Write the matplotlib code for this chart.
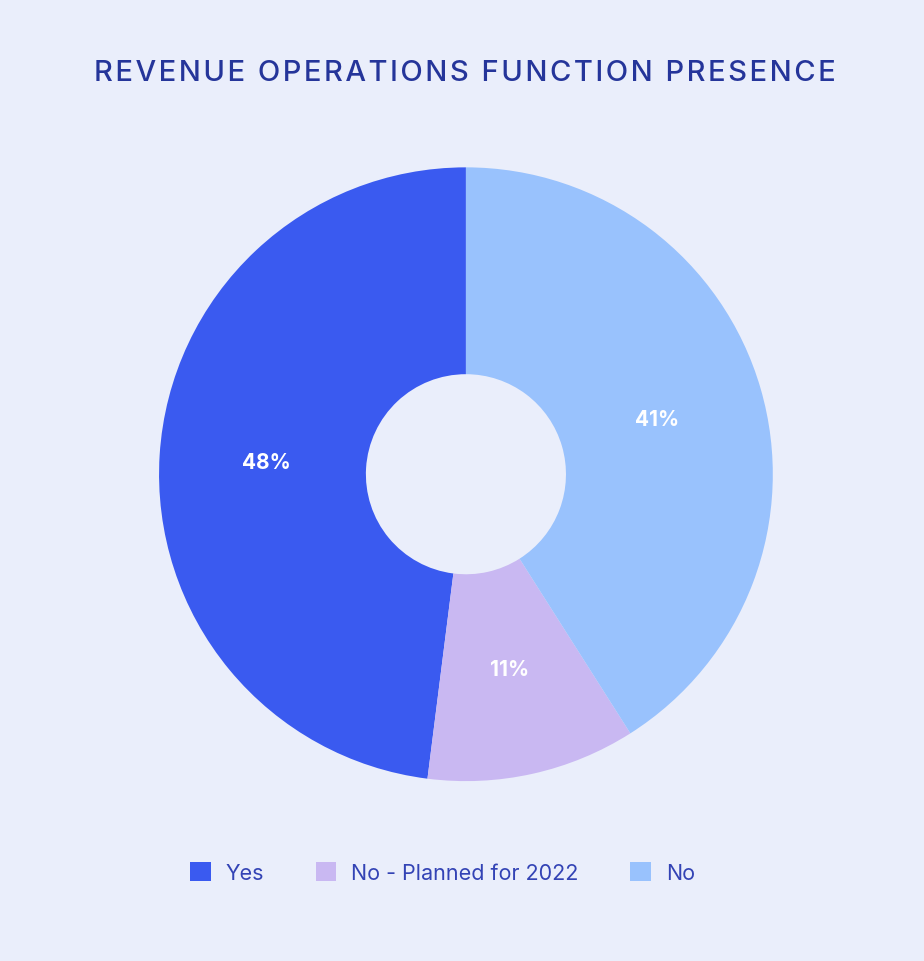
import matplotlib.pyplot as plt

# donut data, counterclockwise from the top
labels = ['Yes', 'No - Planned for 2022', 'No']
values = [48, 11, 41]
colors = ['#3A5AF0', '#C9B8F2', '#99C2FD']
title = 'REVENUE OPERATIONS FUNCTION PRESENCE'

bg = '#EAEEFB'
title_color = '#25359A'
legend_color = '#3343B5'

plt.rcParams['font.family'] = ['Inter', 'DejaVu Sans']


def spaced(s):
    # poor man's letter spacing with hair spaces
    return '\u200a'.join(s)


fig = plt.figure(figsize=(9.24, 9.62), dpi=100, facecolor=bg)
ax = fig.add_axes([0.172, 0.187, 0.6645, 0.638])
ax.set_facecolor(bg)

wedges, texts, autotexts = ax.pie(
    values, colors=colors, startangle=90, counterclock=True,
    radius=1, autopct='%d%%', pctdistance=0.65,
    wedgeprops=dict(width=0.674, edgecolor='none'),
    textprops=dict(color='white', fontsize=15, fontweight='bold'))
ax.set_xlim(-1, 1)
ax.set_ylim(-1, 1)
ax.set_aspect('equal')

fig.text(0.503, 0.924, spaced(title), ha='center', va='center',
         fontsize=21, fontweight='medium', color=title_color)

leg = fig.legend(wedges, labels, loc='center',
                 bbox_to_anchor=(0.479, 0.092), ncol=3,
                 frameon=False, fontsize=15.5, handlelength=0.95, handleheight=1.0,
                 handletextpad=0.7, columnspacing=2.4, labelcolor=legend_color)

fig.savefig('out.png', dpi=100, facecolor=bg)
